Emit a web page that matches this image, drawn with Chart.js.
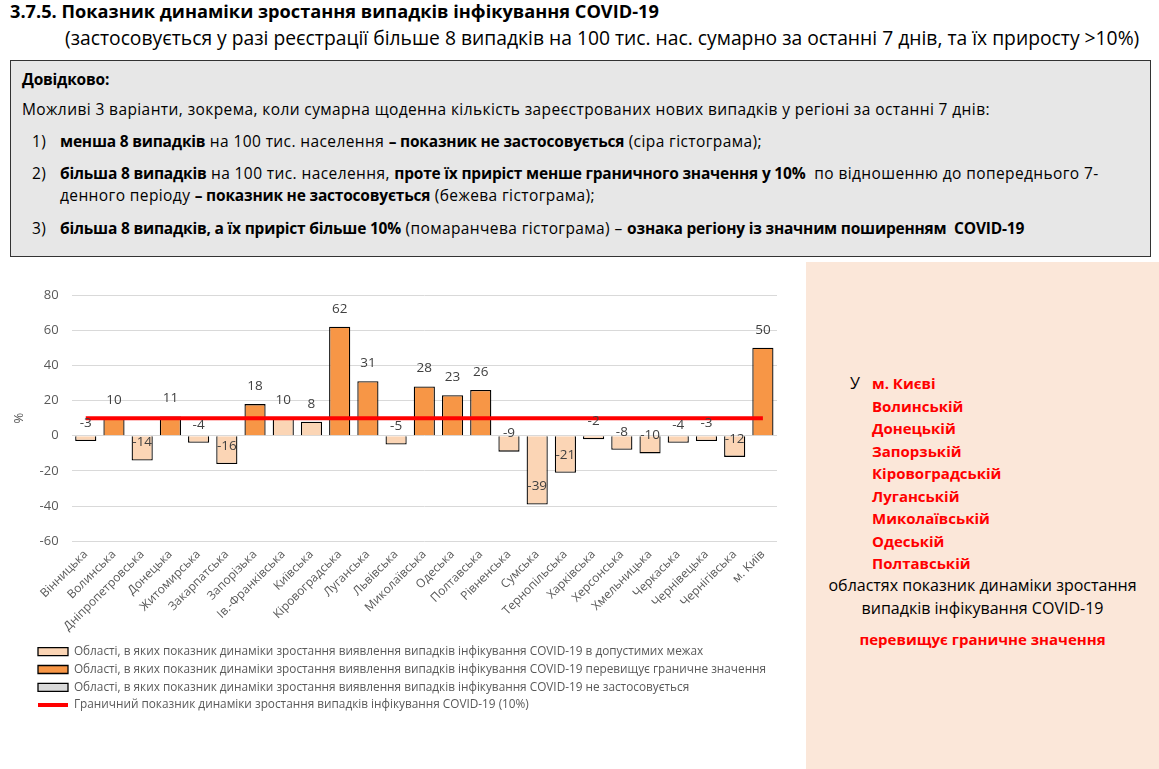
<!DOCTYPE html>
<html lang="uk">
<head>
<meta charset="utf-8">
<script src="https://cdn.jsdelivr.net/npm/chart.js@4"></script>
<style>
  body { margin: 0; width: 1159px; height: 769px; position: relative; background: #fff; font-family: "Open Sans", sans-serif; color: #000; overflow: hidden; }
  .t1 { position: absolute; left: 10px; top: -1px; font-size: 18.2px; font-weight: bold; white-space: nowrap; }
  .t2 { position: absolute; left: 65px; top: 24px; font-size: 19.3px; white-space: nowrap; }
  .box { position: absolute; left: 10px; top: 60px; width: 1141px; height: 197px; background: #e7e7e7; border: 1px solid #333; box-sizing: border-box; }
  .box div { position: absolute; font-size: 15.5px; letter-spacing: 0.4px; white-space: nowrap; }
  .box b { letter-spacing: -0.2px; }
  .num { left: 21px; }
  .side { position: absolute; left: 806px; top: 262px; width: 353px; height: 507px; background: #fbe7d9; }
  .side div { position: absolute; white-space: nowrap; font-size: 16px; }
  .side .red { font-size: 15px; }
  .red { color: #ff0000; font-weight: bold; }
  #wrap { position: absolute; left: 0; top: 267px; }
</style>
</head>
<body>
<div class="t1">3.7.5. Показник динаміки зростання випадків інфікування COVID-19</div>
<div class="t2">(застосовується у разі реєстрації більше 8 випадків на 100 тис. нас. сумарно за останні 7 днів, та їх приросту &gt;10%)</div>

<div class="box">
  <div style="left:11px; top:7px;"><b>Довідково:</b></div>
  <div style="left:11px; top:37px;">Можливі 3 варіанти, зокрема, коли сумарна щоденна кількість зареєстрованих нових випадків у регіоні за останні 7 днів:</div>
  <div class="num" style="top:69px;">1)</div>
  <div style="left:49px; top:69px;"><b>менша 8 випадків</b> на 100 тис. населення <b>– показник не застосовується</b> (сіра гістограма);</div>
  <div class="num" style="top:101px;">2)</div>
  <div style="left:49px; top:101px;"><b>більша 8 випадків</b> на 100 тис. населення, <b>проте їх приріст менше граничного значення у 10%</b>&nbsp; по відношенню до попереднього 7-</div>
  <div style="left:49px; top:123px;">денного періоду <b>– показник не застосовується</b> (бежева гістограма);</div>
  <div class="num" style="top:156px;">3)</div>
  <div style="left:49px; top:156px;"><b>більша 8 випадків, а їх приріст більше 10%</b> (помаранчева гістограма) – <b>ознака регіону із значним поширенням&nbsp; COVID-19</b></div>
</div>

<div class="side">
  <div style="left:44px; top:110px;">У</div>
  <div class="red" style="left:66px; top:111px;">м. Києві</div>
  <div class="red" style="left:66px; top:134px;">Волинській</div>
  <div class="red" style="left:66px; top:156px;">Донецькій</div>
  <div class="red" style="left:66px; top:179px;">Запорзькій</div>
  <div class="red" style="left:66px; top:201px;">Кіровоградській</div>
  <div class="red" style="left:66px; top:224px;">Луганській</div>
  <div class="red" style="left:66px; top:246px;">Миколаївській</div>
  <div class="red" style="left:66px; top:269px;">Одеській</div>
  <div class="red" style="left:66px; top:291px;">Полтавській</div>
  <div style="left:0; width:353px; text-align:center; top:312px;">областях показник динаміки зростання</div>
  <div style="left:0; width:353px; text-align:center; top:335px;">випадків інфікування COVID-19</div>
  <div class="red" style="left:0; width:353px; text-align:center; top:367px;">перевищує граничне значення</div>
</div>

<div id="wrap"><canvas id="chart" width="805" height="464"></canvas></div>

<script>
const regions = ['Вінницька', 'Волинська', 'Дніпропетровська', 'Донецька', 'Житомирська', 'Закарпатська',
  'Запорізька', 'Ів.-Франківська', 'Київська', 'Кіровоградська', 'Луганська', 'Львівська', 'Миколаївська',
  'Одеська', 'Полтавська', 'Рівненська', 'Сумська', 'Тернопільська', 'Харківська', 'Херсонська',
  'Хмельницька', 'Черкаська', 'Чернівецька', 'Чернігівська', 'м. Київ'];
const growth = [-3, 10, -14, 11, -4, -16, 18, 10, 8, 62, 31, -5, 28, 23, 26, -9, -39, -21, -2, -8, -10, -4, -3, -12, 50];
// 1 = перевищує граничне значення (orange bar)
const exceeds = [0, 1, 0, 1, 0, 0, 1, 0, 0, 1, 1, 0, 1, 1, 1, 0, 0, 0, 0, 0, 0, 0, 0, 0, 1];
// nothing in the grey ("не застосовується") group this week
const notApplied = [];
const threshold = 10;
const yTicks = [-60, -40, -20, 0, 20, 40, 60, 80];

const legendText = [
  'Області, в яких показник динаміки зростання виявлення випадків інфікування COVID-19 в допустимих межах',
  'Області, в яких показник динаміки зростання виявлення випадків інфікування COVID-19 перевищує граничне значення',
  'Області, в яких показник динаміки зростання виявлення випадків інфікування COVID-19 не застосовується',
  'Граничний показник динаміки зростання випадків інфікування COVID-19 (10%)'
];

const withinData = growth.map((v, i) => exceeds[i] ? null : v);
const overData = growth.map((v, i) => exceeds[i] ? v : null);
const greyData = regions.map((r, i) => notApplied.includes(r) ? growth[i] : null);

const barLabels = {
  id: 'barLabels',
  afterDatasetsDraw(chart) {
    const ctx = chart.ctx;
    const y = chart.scales.y;
    ctx.save();
    ctx.font = '13.5px "Open Sans"';
    ctx.fillStyle = '#404040';
    ctx.textAlign = 'center';
    ctx.textBaseline = 'middle';
    [0, 1, 2].forEach(di => {
      const meta = chart.getDatasetMeta(di);
      meta.data.forEach((bar, i) => {
        const v = chart.data.datasets[di].data[i];
        if (v === null) return;
        ctx.fillText(String(v), bar.x, y.getPixelForValue(v) - 18);
      });
    });
    ctx.restore();
  }
};

const shiftLegend = {
  id: 'shiftLegend',
  afterLayout(chart) {
    chart.legend.left += 21;
    chart.legend.right += 21;
  }
};

new Chart(document.getElementById('chart'), {
  type: 'bar',
  data: {
    labels: regions,
    datasets: [
      { label: legendText[0], data: withinData, backgroundColor: '#fbd5b5', borderColor: '#000', borderWidth: 1.3, order: 1 },
      { label: legendText[1], data: overData, backgroundColor: '#f79646', borderColor: '#000', borderWidth: 1.3, order: 1 },
      { label: legendText[2], data: greyData, backgroundColor: '#d9d9d9', borderColor: '#000', borderWidth: 1.3, order: 1 },
      { type: 'line', label: legendText[3], data: regions.map(() => threshold), borderColor: '#ff0000', backgroundColor: '#ff0000',
        borderWidth: 4, pointRadius: 0, order: 0 }
    ]
  },
  options: {
    responsive: false,
    animation: false,
    layout: { padding: { left: 11, top: 28, right: 28, bottom: 10 } },
    datasets: { bar: { categoryPercentage: 1, barPercentage: 0.75 } },
    scales: {
      x: {
        stacked: true,
        grid: { display: false, drawTicks: false },
        border: { display: false },
        ticks: { autoSkip: false, maxRotation: 45, minRotation: 45, padding: 6, color: '#595959', font: { family: 'Open Sans', size: 12 } }
      },
      y: {
        min: -60, max: 80,
        afterBuildTicks(axis) { axis.ticks = yTicks.map(v => ({ value: v })); },
        grid: { color: '#d9d9d9', drawTicks: false },
        border: { display: false },
        ticks: { padding: 13, color: '#595959', font: { family: 'Open Sans', size: 13 } },
        title: { display: true, text: '%', color: '#595959', font: { family: 'Open Sans', size: 13 }, padding: 0 }
      }
    },
    plugins: {
      tooltip: { enabled: false },
      legend: {
        position: 'bottom',
        align: 'start',
        labels: {
          color: '#595959',
          font: { family: 'Open Sans', size: 11.8 },
          padding: 6,
          boxWidth: 30,
          boxHeight: 8,
          usePointStyle: true,
          pointStyleWidth: 30,
          generateLabels(chart) {
            return chart.data.datasets.map((ds, i) => ({
              text: ds.label,
              datasetIndex: i,
              fillStyle: ds.backgroundColor,
              strokeStyle: i === 3 ? '#ff0000' : '#000',
              lineWidth: i === 3 ? 4 : 1.3,
              pointStyle: i === 3 ? 'line' : 'rect',
              fontColor: '#595959',
              hidden: false
            }));
          }
        }
      }
    }
  },
  plugins: [barLabels, shiftLegend]
});
</script>
</body>
</html>
